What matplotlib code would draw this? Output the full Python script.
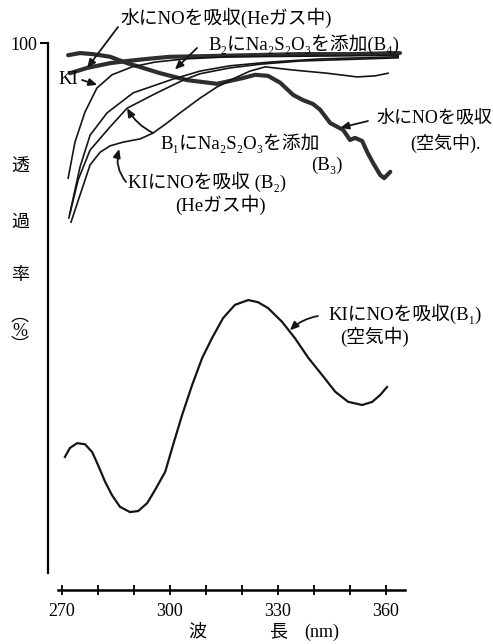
import matplotlib
matplotlib.use("Agg")
import matplotlib.pyplot as plt

plt.rcParams["font.family"] = ["Liberation Serif", "DejaVu Serif", "Noto Sans CJK JP"]

W, H = 493, 644

# ----------------------------
# curves (wavelength nm, transmittance %)
# ----------------------------
# 水にNOを吸収 (空気中) - thick wiggly line
wl_water_air = [271.7, 275.0, 278.6, 283.4, 288.1, 292.5, 297.3, 304.8, 313.1, 320.4, 323.7,
                327.3, 330.7, 334.3, 337.1, 339.8, 341.8, 344.6, 348.2, 350.1, 351.5, 353.5,
                354.9, 356.5, 358.5, 359.6, 361.3]
t_water_air = [97.7, 98.1, 97.9, 97.4, 96.2, 95.3, 94.3, 93.0, 92.3, 93.4, 94.0,
               93.8, 92.5, 90.2, 89.2, 88.5, 87.4, 84.9, 83.6, 81.7, 82.1, 81.5,
               79.4, 77.4, 75.1, 74.5, 75.7]

# 水にNOを吸収 (Heガス中) - thick line
wl_water_he = [272.2, 277.0, 283.4, 288.1, 293.7, 300.0, 308.4, 322.3, 336.2, 350.1, 364.0]
t_water_he = [94.3, 95.3, 96.2, 96.6, 97.0, 97.4, 97.5, 97.7, 97.9, 97.9, 98.1]

# KI
wl_ki = [271.7, 273.6, 276.4, 279.7, 283.9, 289.5, 295.9, 304.2, 316.7, 336.2, 363.5]
t_ki = [74.5, 81.3, 87.0, 91.5, 94.0, 95.5, 96.4, 97.0, 97.4, 97.5, 97.7]

# B2にNa2S2O3を添加 (B4)
wl_b4 = [272.2, 275.0, 277.8, 282.5, 289.8, 300.9, 308.4, 316.7, 327.9, 341.8, 363.5]
t_b4 = [67.9, 76.6, 82.6, 86.8, 90.6, 93.2, 94.7, 95.7, 96.4, 97.0, 97.4]

# B1にNa2S2O3を添加 (B3)
wl_b3 = [271.9, 274.5, 277.8, 283.4, 288.1, 296.4, 303.7, 308.4, 316.7, 325.1, 336.2, 363.5]
t_b3 = [67.0, 74.2, 79.8, 84.2, 87.7, 90.6, 93.0, 94.2, 95.3, 96.0, 96.6, 97.2]

# KIにNOを吸収 (B2) (Heガス中)
wl_b2 = [272.5, 275.0, 277.8, 280.6, 283.4, 287.0, 291.7, 295.3, 299.2, 302.8, 308.4, 313.1,
         318.1, 322.3, 326.5, 334.3, 343.7, 352.1, 357.1, 360.7]
t_b2 = [66.2, 71.3, 77.0, 79.4, 80.6, 81.3, 81.9, 83.0, 84.9, 86.8, 89.6, 91.7,
        93.4, 94.7, 95.5, 94.9, 94.3, 93.6, 93.8, 94.3]

# KIにNOを吸収 (B1) (空気中)
wl_b1 = [270.8, 272.2, 274.2, 276.4, 278.4, 280.0, 282.0, 283.9, 286.1, 288.9, 291.2, 293.7,
         295.9, 298.7, 300.9, 303.4, 306.2, 309.0, 311.7, 314.8, 318.1, 321.8, 324.5, 327.3,
         331.2, 334.8, 338.5, 342.3, 346.0, 349.6, 353.5, 356.3, 358.5, 360.4]
t_b1 = [21.9, 23.6, 24.5, 24.3, 22.8, 20.4, 17.2, 14.7, 12.5, 11.5, 11.7, 13.2,
        15.7, 19.1, 24.2, 29.8, 35.5, 40.6, 44.3, 48.1, 50.6, 51.5, 51.1, 50.0,
        47.4, 44.3, 40.6, 37.4, 34.2, 32.3, 31.7, 32.3, 33.6, 35.1]

major_ticks = [270, 300, 330, 360]
minor_ticks = [280, 290, 310, 320, 340, 350]


def fx(px, py):
    """pixel position on the 493x644 canvas -> figure fraction"""
    return (px / W, 1 - py / H)


fig = plt.figure(figsize=(W / 100, H / 100), dpi=100)
ax = fig.add_axes([48 / W, 1 - 590 / H, (405 - 48) / W, (590 - 43) / H])
ax.set_xlim(266.1, 365.4)
ax.set_ylim(-3.2, 100)

ink = "#151515"
thick = "#2e2e2e"
ax.plot(wl_water_air, t_water_air, color=thick, lw=3.0, solid_capstyle="round", solid_joinstyle="round")
ax.plot(wl_water_he, t_water_he, color=thick, lw=3.0, solid_capstyle="round")
for xs, ys in [(wl_ki, t_ki), (wl_b4, t_b4), (wl_b3, t_b3), (wl_b2, t_b2)]:
    ax.plot(xs, ys, color=ink, lw=1.2, solid_joinstyle="round")
ax.plot(wl_b1, t_b1, color=ink, lw=1.6, solid_joinstyle="round")

# axes: detached y line and x line, like the print
for s in ["top", "right"]:
    ax.spines[s].set_visible(False)
ax.spines["left"].set_bounds(0, 100)
ax.spines["left"].set_linewidth(1.6)
ax.spines["bottom"].set_bounds(268.9, 365.4)
ax.spines["bottom"].set_linewidth(1.8)
ax.spines["bottom"].set_position(("data", -3.2))

ax.set_yticks([100])
ax.set_yticklabels(["100"], fontsize=13)
ax.tick_params(axis="y", direction="out", length=6, width=1.4, pad=2)
ax.set_xticks(major_ticks)
ax.set_xticklabels([str(v) for v in major_ticks], fontsize=13)
ax.set_xticks(minor_ticks, minor=True)
ax.tick_params(axis="x", which="both", direction="inout", length=7, width=1.3, pad=6)

# y label, written vertically
for ch, py in [("透", 167), ("過", 222), ("率", 275)]:
    fig.text(*fx(20, py), ch, fontsize=13, ha="center", va="center")
fig.text(*fx(20, 331), "︵\n%\n︶", fontsize=13, ha="center", va="center", linespacing=0.85)

# x label
fig.text(*fx(197, 632), "波", fontsize=13, ha="center", va="center")
fig.text(*fx(278, 632), "長", fontsize=13, ha="center", va="center")
fig.text(*fx(322, 632), "(nm)", fontsize=13, ha="center", va="center")

# labels with arrows
fs = 13.5
arrow = dict(arrowstyle="-|>,head_length=0.5,head_width=0.22", color=ink, lw=1.3,
             shrinkA=0, shrinkB=0)

fig.text(*fx(120, 18), "水にNOを吸収(Heガス中)", fontsize=fs, ha="left", va="center")
ax.annotate("", xy=(277.0, 95.3), xytext=fx(118, 27), textcoords="figure fraction",
            arrowprops=arrow)

fig.text(*fx(208, 44), "B₂にNa₂S₂O₃を添加(B₄)", fontsize=fs, ha="left", va="center")
ax.annotate("", xy=(301.4, 95.0), xytext=fx(197, 48), textcoords="figure fraction",
            arrowprops=arrow)

fig.text(*fx(58, 80), "KI", fontsize=fs, ha="left", va="center")
ax.annotate("", xy=(279.8, 92.1), xytext=fx(82, 80), textcoords="figure fraction",
            arrowprops=arrow)

fig.text(*fx(376, 118), "水にNOを吸収", fontsize=13, ha="left", va="center")
fig.text(*fx(410, 143), "(空気中).", fontsize=13, ha="left", va="center")
ax.annotate("", xy=(347.4, 84.0), xytext=fx(368, 121), textcoords="figure fraction",
            arrowprops=arrow)

fig.text(*fx(160, 143), "B₁にNa₂S₂O₃を添加", fontsize=fs, ha="left", va="center")
fig.text(*fx(327, 165), "(B₃)", fontsize=fs, ha="center", va="center")
ax.annotate("", xy=(288.1, 87.7), xytext=fx(153, 133), textcoords="figure fraction",
            arrowprops=dict(arrow, connectionstyle="arc3,rad=-0.15"))

fig.text(*fx(128, 182), "KIにNOを吸収 (B₂)", fontsize=fs, ha="left", va="center")
fig.text(*fx(175, 205), "(Heガス中)", fontsize=fs, ha="left", va="center")
ax.annotate("", xy=(285.9, 80.0), xytext=fx(126, 182), textcoords="figure fraction",
            arrowprops=dict(arrow, connectionstyle="arc3,rad=-0.25"))

fig.text(*fx(328, 314), "KIにNOを吸収(B₁)", fontsize=fs, ha="left", va="center")
fig.text(*fx(340, 337), "(空気中)", fontsize=fs, ha="left", va="center")
ax.annotate("", xy=(333.4, 45.8), xytext=fx(318, 316), textcoords="figure fraction",
            arrowprops=dict(arrow, connectionstyle="arc3,rad=0.15"))

fig.savefig("out.png", dpi=100)
